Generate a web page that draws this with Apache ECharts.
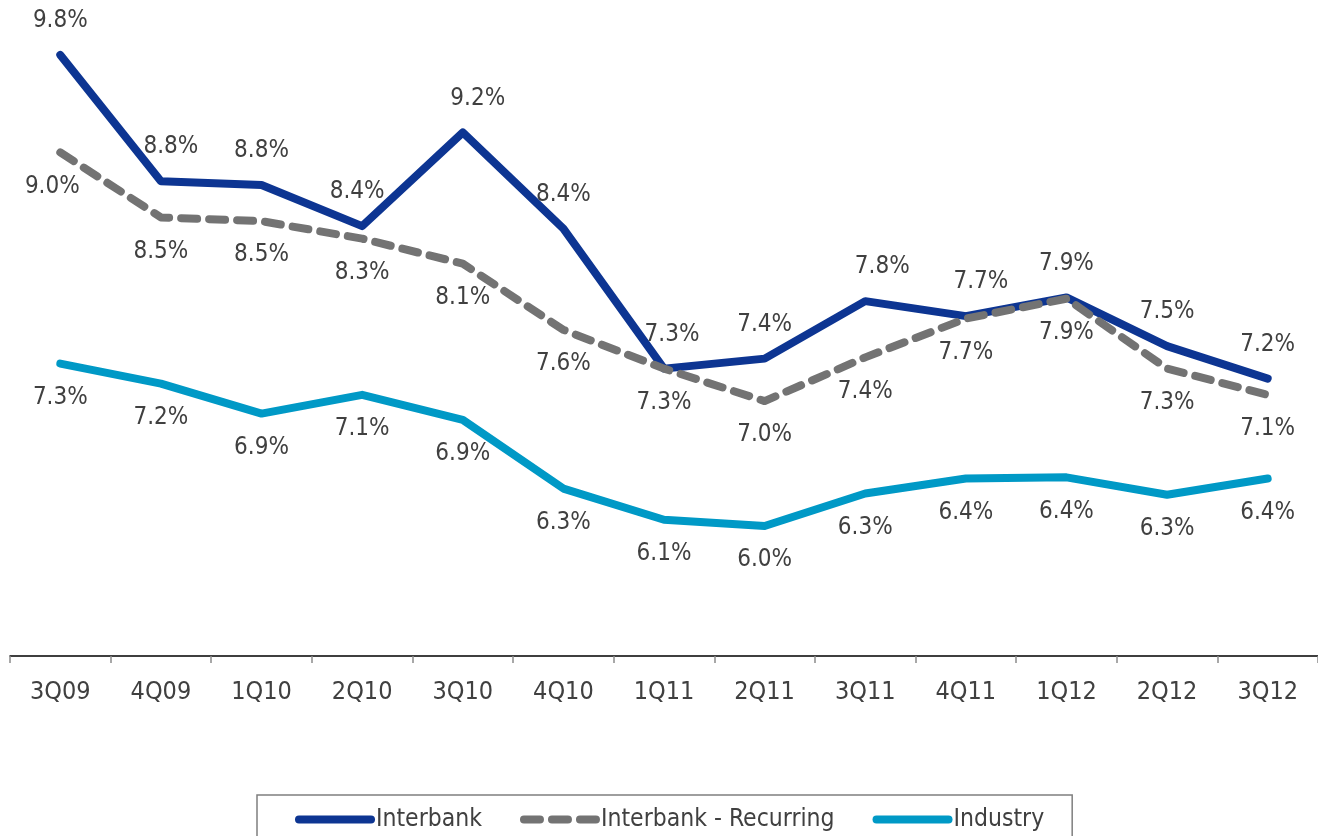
<!DOCTYPE html>
<html>
<head>
<meta charset="utf-8">
<script src="https://cdn.jsdelivr.net/npm/echarts@6/dist/echarts.min.js"></script>
<style>
  html, body { margin: 0; padding: 0; background: #fff; }
  #chart { width: 1318px; height: 836px; }
</style>
</head>
<body>
<div id="chart"></div>
<script>
var quarters = ['3Q09', '4Q09', '1Q10', '2Q10', '3Q10', '4Q10', '1Q11', '2Q11', '3Q11', '4Q11', '1Q12', '2Q12', '3Q12'];
var interbank = [9.81, 8.80, 8.77, 8.44, 9.19, 8.42, 7.30, 7.38, 7.84, 7.72, 7.87, 7.48, 7.22];
var recurring = [9.03, 8.51, 8.48, 8.34, 8.14, 7.61, 7.30, 7.04, 7.39, 7.70, 7.86, 7.30, 7.09];
var industry = [7.34, 7.18, 6.94, 7.09, 6.89, 6.34, 6.09, 6.04, 6.30, 6.42, 6.43, 6.29, 6.42];

var myChart = echarts.init(document.getElementById('chart'));
var FONT = '"DejaVu Sans Condensed", "DejaVu Sans", sans-serif';

// some labels sit a bit to the side of their point, like in the original
var labelNudge = {
    'Interbank': { 1: 10, 3: -5, 4: 15, 6: 8, 8: 17, 9: 15 },
    'Interbank - Recurring': { 0: -8 }
};

function pct(p) {
    return (Math.round(p.value * 10) / 10).toFixed(1) + '%';
}

function lineSeries(name, data, color, dashed, pos) {
    var nudge = labelNudge[name] || {};
    var items = data.map(function (v, i) {
        if (nudge[i] === undefined) return v;
        return { value: v, label: { offset: [nudge[i], 0] } };
    });
    return {
        name: name,
        type: 'line',
        data: items,
        symbol: 'circle',
        symbolSize: 0.01,
        lineStyle: {
            color: color,
            width: 8,
            type: dashed ? [16, 12] : 'solid',
            cap: 'round',
            join: 'round'
        },
        itemStyle: { color: color },
        label: {
            show: true,
            position: pos,
            distance: 22,
            formatter: pct,
            color: '#404040',
            fontFamily: FONT,
            fontSize: 24
        },
        animation: false
    };
}

var option = {
    backgroundColor: '#fff',
    grid: { left: 10, right: 0, top: 0, bottom: 180 },
    legend: {
        bottom: -26,
        left: 257,
        padding: [12, 28, 30, 38],
        borderColor: '#7f7f7f',
        borderWidth: 1.5,
        itemWidth: 72,
        itemHeight: 14,
        itemGap: 38,
        itemStyle: { opacity: 0 },
        lineStyle: { width: 8, cap: 'round' },
        textStyle: { color: '#404040', fontFamily: FONT, fontSize: 24.5 },
        data: ['Interbank', 'Interbank - Recurring', 'Industry']
    },
    xAxis: {
        type: 'category',
        data: quarters,
        boundaryGap: true,
        axisLine: { lineStyle: { color: '#000', width: 1.5 } },
        axisTick: { show: true, length: 7, lineStyle: { color: '#8c8c8c', width: 1.5 } },
        axisLabel: { color: '#404040', fontFamily: FONT, fontSize: 25, margin: 24 }
    },
    yAxis: {
        type: 'value',
        min: 5,
        max: 10.25,
        show: false,
        splitLine: { show: false }
    },
    series: [
        lineSeries('Interbank', interbank, '#0d3592', false, 'top'),
        lineSeries('Interbank - Recurring', recurring, '#737373', true, 'bottom'),
        lineSeries('Industry', industry, '#0099c6', false, 'bottom')
    ]
};

myChart.setOption(option);
</script>
</body>
</html>
